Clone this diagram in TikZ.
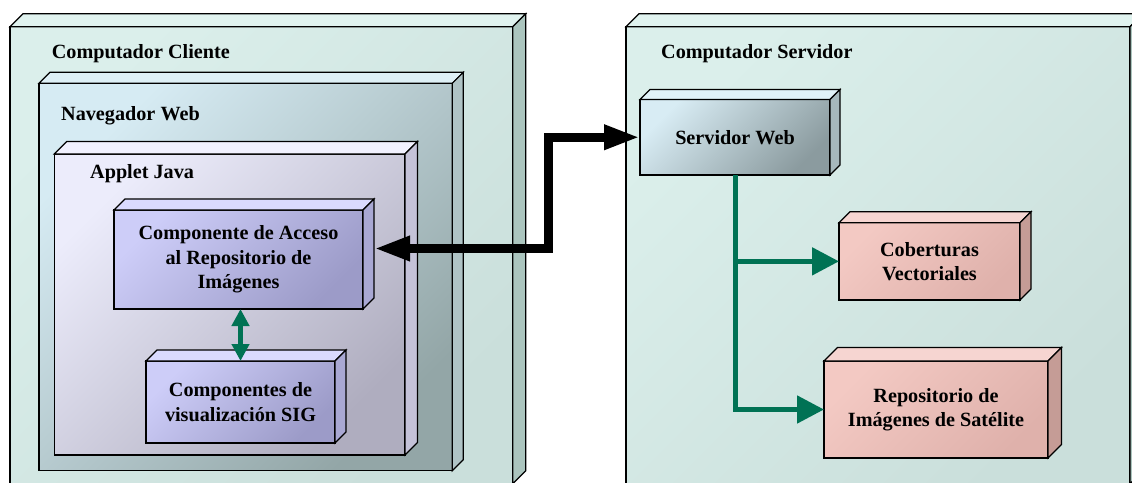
\documentclass[tikz,border=0pt]{standalone}
\usepackage{fontspec}
\setmainfont{Liberation Serif}
\usetikzlibrary{arrows.meta,calc}

% colours of the boxes (front gradient, top face, side face)
\definecolor{hostA}{HTML}{DBEFEB}
\definecolor{hostB}{HTML}{CADFDB}
\definecolor{hostTop}{HTML}{E0F3EF}
\definecolor{hostSide}{HTML}{ABC5BE}
\definecolor{navA}{HTML}{D6EBF3}
\definecolor{navB}{HTML}{93A6A7}
\definecolor{navTop}{HTML}{DEF0F6}
\definecolor{navSide}{HTML}{AFC3C5}
\definecolor{appA}{HTML}{ECECFB}
\definecolor{appB}{HTML}{AFADBF}
\definecolor{appTop}{HTML}{F1F1FE}
\definecolor{appSide}{HTML}{C4C2D8}
\definecolor{compA}{HTML}{CDCDF8}
\definecolor{compB}{HTML}{9C9BC8}
\definecolor{compTop}{HTML}{DADAFE}
\definecolor{compSide}{HTML}{A9A8D3}
\definecolor{webA}{HTML}{D8ECF4}
\definecolor{webB}{HTML}{8B9B9F}
\definecolor{webTop}{HTML}{E1F2F8}
\definecolor{webSide}{HTML}{A6B8BC}
\definecolor{dataA}{HTML}{F3C9C3}
\definecolor{dataB}{HTML}{DFB1AB}
\definecolor{dataTop}{HTML}{F6D5D1}
\definecolor{dataSide}{HTML}{C59C96}
\definecolor{linkgreen}{RGB}{0,114,84}

% top and right faces of a 3d box: node, depth, top colour, side colour
\newcommand{\boxfaces}[4]{%
  \filldraw[fill=#3, line width=1.2pt] (#1.north west) -- ++(#2,-#2)
    -- ($(#1.north east)+(#2,-#2)$) -- (#1.north east) -- cycle;
  \filldraw[fill=#4, line width=1.2pt] (#1.north east) -- ++(#2,-#2)
    -- ($(#1.south east)+(#2,-#2)$) -- (#1.south east) -- cycle;
}

\begin{document}
\begin{tikzpicture}[x=1pt, y=-1pt,
		every node/.style={font=\fontsize{20.2}{24.3}\selectfont\bfseries},
		cube/.style={
			draw,
			line width=1.2pt,
			anchor=north west,
			inner sep=0pt,
			outer sep=0pt,
			align=center,
			shading angle=45},
		host/.style={cube, top color=hostA, bottom color=hostB, shading angle=45},
		nav/.style={cube, top color=navA, bottom color=navB, shading angle=45},
		app/.style={cube, top color=appA, bottom color=appB, shading angle=45},
		comp/.style={cube, top color=compA, bottom color=compB, shading angle=45},
		web/.style={cube, top color=webA, bottom color=webB, shading angle=45},
		data/.style={cube, top color=dataA, bottom color=dataB, shading angle=45},
		title/.style={anchor=base west, inner sep=0pt},
		http/.style={line width=9pt,
			{Triangle[length=36pt,width=23pt]}-{Triangle[length=36pt,width=23pt]}},
		call/.style={linkgreen, line width=5pt,
			{Triangle[length=17pt,width=17pt]}-{Triangle[length=17pt,width=17pt]}},
		feed/.style={linkgreen, line width=5pt, -{Triangle[length=27pt,width=27pt]}}]

	\useasboundingbox (0,0) rectangle (1132,482);
	\fill[white] (0,0) rectangle (1132,482);
	\clip (0,0) rectangle (1132,482);

	% client side
	\node (cliente) [host, minimum width=502.7pt, minimum height=457pt] at (10,26.7) {};
	\boxfaces{cliente}{13}{hostTop}{hostSide}
	\node (clienteTxt) [title] at ([shift={(41.7,31.3)}]cliente.north west) {Computador Cliente};

	\node (navegador) [nav, minimum width=413.3pt, minimum height=387.4pt] at (39,83.3) {};
	\boxfaces{navegador}{11}{navTop}{navSide}
	\node (navegadorTxt) [title] at ([shift={(22,36.7)}]navegador.north west) {Navegador Web};

	\node (applet) [app, minimum width=350.7pt, minimum height=301pt] at (54.3,154) {};
	\boxfaces{applet}{12.5}{appTop}{appSide}
	\node (appletTxt) [title] at ([shift={(35.7,24)}]applet.north west) {Applet Java};

	\node (acceso) [comp, minimum width=249pt, minimum height=99pt] at (114,210)
		{Componente de Acceso\\al Repositorio de\\Imágenes};
	\boxfaces{acceso}{11}{compTop}{compSide}

	\node (sig) [comp, minimum width=189pt, minimum height=82pt] at (146,361)
		{Componentes de\\visualización SIG};
	\boxfaces{sig}{11}{compTop}{compSide}

	% server side
	\node (servidor) [host, minimum width=504pt, minimum height=457pt] at (626,26.7) {};
	\boxfaces{servidor}{13}{hostTop}{hostSide}
	\node (servidorTxt) [title] at ([shift={(35,31.3)}]servidor.north west) {Computador Servidor};

	\node (web) [web, minimum width=190pt, minimum height=75.5pt] at (640,99.5) {Servidor Web};
	\boxfaces{web}{10}{webTop}{webSide}

	\node (cobert) [data, minimum width=181pt, minimum height=77.3pt] at (839,222.7)
		{Coberturas\\Vectoriales};
	\boxfaces{cobert}{11}{dataTop}{dataSide}

	\node (repos) [data, minimum width=224pt, minimum height=97pt] at (824,361)
		{Repositorio de\\Imágenes de Satélite};
	\boxfaces{repos}{13.5}{dataTop}{dataSide}

	% connectors
	\draw [call] (sig.north |- acceso.south) -- (sig.north);
	\draw [feed] (web.south) |- (repos.west);
	\draw [feed] (web.south |- cobert.west) -- (cobert.west);
	\draw [http] ([shift={(11,-11)}]acceso.east) -- ++(174,0) |- (web.west);
\end{tikzpicture}
\end{document}
